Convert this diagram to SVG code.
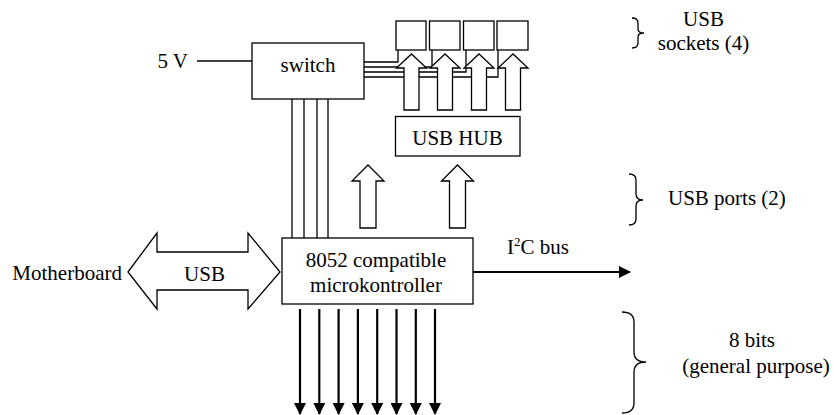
<svg xmlns="http://www.w3.org/2000/svg" width="834" height="415" viewBox="0 0 834 415" font-family="'Liberation Serif', 'Times New Roman', 'DejaVu Serif', serif" font-size="21">
<defs>
<style>
.box{fill:#fff;stroke:#000;stroke-width:1.3}
.wire{fill:none;stroke:#000;stroke-width:1.3}
.hol{fill:#fff;stroke:#000;stroke-width:1.3;stroke-linejoin:miter}
.bold{fill:none;stroke:#000;stroke-width:2.2}
.brace{fill:none;stroke:#000;stroke-width:1.3}
.t{font-family:'Liberation Serif','Times New Roman','DejaVu Serif',serif;font-size:21px;fill:#000}
.c{text-anchor:middle}
</style>
<marker id="ah" viewBox="0 0 12 12" refX="11" refY="6" markerWidth="12" markerHeight="12" markerUnits="userSpaceOnUse" orient="auto">
<path d="M0,0 L12,6 L0,12 Z" fill="#000"/>
</marker>
</defs>

<g id="connectors">
<line class="wire" x1="197" y1="61" x2="252" y2="61"/>
<path class="wire" d="M364,62 H398 V50"/>
<path class="wire" d="M364,67 H432 V50"/>
<path class="wire" d="M364,72 H466 V50"/>
<path class="wire" d="M364,77 H498 V50"/>
<line class="wire" x1="292" y1="99" x2="292" y2="238"/>
<line class="wire" x1="304" y1="99" x2="304" y2="238"/>
<line class="wire" x1="317" y1="99" x2="317" y2="238"/>
<line class="wire" x1="328" y1="99" x2="328" y2="238"/>
<line class="bold" x1="473" y1="272" x2="630" y2="272" marker-end="url(#ah)"/>
<line class="bold" x1="300" y1="309" x2="300" y2="414" marker-end="url(#ah)"/>
<line class="bold" x1="319.3" y1="309" x2="319.3" y2="414" marker-end="url(#ah)"/>
<line class="bold" x1="338.6" y1="309" x2="338.6" y2="414" marker-end="url(#ah)"/>
<line class="bold" x1="357.9" y1="309" x2="357.9" y2="414" marker-end="url(#ah)"/>
<line class="bold" x1="377.2" y1="309" x2="377.2" y2="414" marker-end="url(#ah)"/>
<line class="bold" x1="396.5" y1="309" x2="396.5" y2="414" marker-end="url(#ah)"/>
<line class="bold" x1="415.8" y1="309" x2="415.8" y2="414" marker-end="url(#ah)"/>
<line class="bold" x1="435" y1="309" x2="435" y2="414" marker-end="url(#ah)"/>
<polygon class="hol" points="404,110 404,68 396.5,68 411.5,54 426.5,68 419,68 419,110"/>
<polygon class="hol" points="437.5,110 437.5,68 430,68 445,54 460,68 452.5,68 452.5,110"/>
<polygon class="hol" points="471.5,110 471.5,68 464,68 479,54 494,68 486.5,68 486.5,110"/>
<polygon class="hol" points="505.5,110 505.5,68 498,68 513,54 528,68 520.5,68 520.5,110"/>
<polygon class="hol" points="360,228 360,181 352,181 368,165 384,181 376,181 376,228"/>
<polygon class="hol" points="449.5,228 449.5,181 441.5,181 457.5,165 473.5,181 465.5,181 465.5,228"/>
<polygon class="hol" points="128,272 157,233 157,252 248,252 248,233 280,272 248,309 248,290 157,290 157,309"/>
</g>

<g id="label-5v"><text class="t" x="188" y="68" text-anchor="end">5 V</text></g>
<g id="label-motherboard"><text class="t" x="122" y="280" text-anchor="end">Motherboard</text></g>
<g id="label-usb"><text class="t c" x="204.5" y="281">USB</text></g>
<g id="label-i2c"><text class="t" x="507" y="254">I<tspan font-size="13" dy="-8">2</tspan><tspan dy="8">C bus</tspan></text></g>

<g id="switch">
<rect class="box" x="252" y="43" width="112" height="56"/>
<text class="t c" x="308" y="72">switch</text>
</g>

<g id="sockets">
<rect class="box" x="396" y="21" width="30" height="29"/>
<rect class="box" x="429.5" y="21" width="30.5" height="29"/>
<rect class="box" x="463.5" y="21" width="30.5" height="29"/>
<rect class="box" x="497" y="21" width="31" height="29"/>
</g>

<g id="usbhub">
<rect class="box" x="395.5" y="116.5" width="124.5" height="39.5"/>
<text class="t c" x="457.5" y="145">USB HUB</text>
</g>

<g id="micro">
<rect class="box" x="282" y="238" width="191" height="66"/>
<text class="t c" x="376" y="267">8052 compatible</text>
<text class="t c" x="376" y="292">microkontroller</text>
</g>

<g id="brace-sockets">
<path class="brace" d="M632,18 Q638,18 638,23 V29 Q638,33 644,33 Q638,33 638,37 V43 Q638,48 632,48"/>
<text class="t c" x="703.5" y="26">USB</text>
<text class="t c" x="703.5" y="50">sockets (4)</text>
</g>

<g id="brace-ports">
<path class="brace" d="M629,174 Q636,174 636,180 V194 Q636,200 643,200 Q636,200 636,206 V219 Q636,225 629,225"/>
<text class="t" x="668" y="205">USB ports (2)</text>
</g>

<g id="brace-bits">
<path class="brace" d="M622,312 Q634,312 634,322 V352 Q634,362 646,362 Q634,362 634,372 V403 Q634,413 622,413"/>
<text class="t c" x="752" y="347">8 bits</text>
<text class="t c" x="756" y="373">(general purpose)</text>
</g>
</svg>
